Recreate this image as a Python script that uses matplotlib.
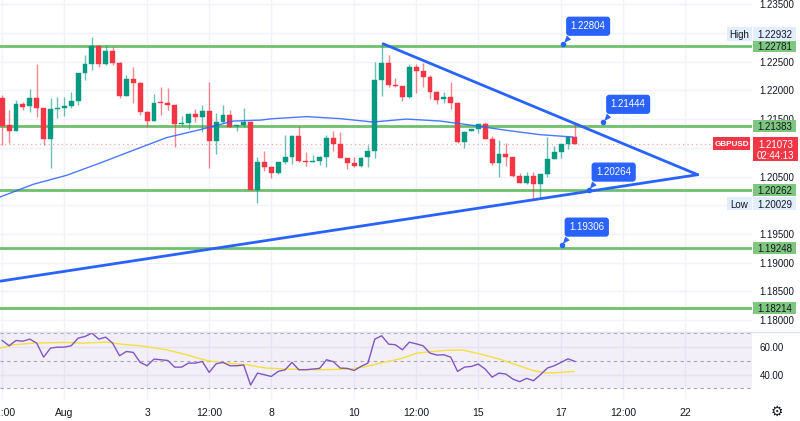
import matplotlib
matplotlib.use("Agg")
import matplotlib.pyplot as plt
import matplotlib.transforms as mtransforms
from matplotlib.patches import Rectangle
from matplotlib.lines import Line2D
import numpy as np

plt.rcParams['font.family'] = ['Liberation Sans', 'DejaVu Sans']

# ---------------- data (4h GBPUSD candles, bar index relative to Aug 1 00:00) -------------
bar_index = list(range(-9, 75))
opens = [1.21864, 1.21400, 1.21301, 1.21766, 1.21731, 1.21864, 1.21690, 1.21150, 1.21673, 1.21702,
         1.21725, 1.21818, 1.22299, 1.22468, 1.22781, 1.22468, 1.22688, 1.22485, 1.21911, 1.22201,
         1.22137, 1.21632, 1.21469, 1.21795, 1.21783, 1.21742, 1.21417, 1.21429, 1.21586, 1.21545,
         1.21644, 1.21127, 1.21452, 1.21568, 1.21377, 1.21400, 1.21441, 1.20262, 1.20761, 1.20674,
         1.20558, 1.20761, 1.20848, 1.21208, 1.20767, 1.20761, 1.20779, 1.20843, 1.21168, 1.21063,
         1.20819, 1.20744, 1.20686, 1.20837, 1.20947, 1.22183, 1.22474, 1.22096, 1.22079, 1.21893,
         1.22410, 1.22346, 1.22230, 1.21969, 1.21847, 1.21893, 1.21777, 1.21110, 1.21301, 1.21324,
         1.21411, 1.21150, 1.20744, 1.20890, 1.20837, 1.20518, 1.20396, 1.20518, 1.20367, 1.20547,
         1.20802, 1.20924, 1.21069, 1.21185]
highs = [1.21920, 1.21661, 1.21835, 1.21806, 1.22021, 1.22456, 1.21700, 1.21864, 1.21882, 1.21882,
         1.21980, 1.22310, 1.22619, 1.22932, 1.22793, 1.22793, 1.22764, 1.22500, 1.22270, 1.22404,
         1.22150, 1.21640, 1.21934, 1.22067, 1.22044, 1.21750, 1.21557, 1.21603, 1.21673, 1.21748,
         1.22154, 1.21603, 1.21748, 1.21650, 1.21400, 1.21690, 1.21475, 1.20848, 1.20936, 1.20680,
         1.20761, 1.21220, 1.21215, 1.21382, 1.20930, 1.20878, 1.20860, 1.21220, 1.21295, 1.21284,
         1.20825, 1.20837, 1.20848, 1.21052, 1.22503, 1.22822, 1.22619, 1.22212, 1.22085, 1.22456,
         1.22456, 1.22474, 1.22270, 1.21992, 1.21980, 1.22154, 1.21790, 1.21290, 1.21330, 1.21411,
         1.21441, 1.21208, 1.21140, 1.21081, 1.20840, 1.20558, 1.20587, 1.20587, 1.20547, 1.21185,
         1.21034, 1.21069, 1.21208, 1.21417]
lows = [1.21052, 1.21092, 1.21290, 1.21661, 1.21632, 1.21545, 1.21052, 1.20645, 1.21516, 1.21557,
        1.21690, 1.21748, 1.22183, 1.22358, 1.22416, 1.22450, 1.22450, 1.21864, 1.21900, 1.21789,
        1.21574, 1.21359, 1.21460, 1.21580, 1.21661, 1.21010, 1.21382, 1.21336, 1.21441, 1.21284,
        1.20657, 1.20895, 1.21429, 1.21365, 1.21301, 1.21359, 1.20262, 1.20036, 1.20605, 1.20471,
        1.20550, 1.20721, 1.20721, 1.20760, 1.20686, 1.20755, 1.20703, 1.20663, 1.20953, 1.20815,
        1.20639, 1.20663, 1.20663, 1.20674, 1.20819, 1.21911, 1.22067, 1.22067, 1.21824, 1.21864,
        1.21951, 1.22067, 1.21847, 1.21766, 1.21777, 1.21673, 1.21081, 1.20994, 1.21295, 1.21255,
        1.21145, 1.20703, 1.20500, 1.20692, 1.20500, 1.20384, 1.20373, 1.20094, 1.20135, 1.20500,
        1.20800, 1.20831, 1.20976, 1.21069]
closes = [1.21382, 1.21301, 1.21766, 1.21719, 1.21864, 1.21690, 1.21150, 1.21678, 1.21702, 1.21725,
          1.21818, 1.22299, 1.22468, 1.22781, 1.22468, 1.22688, 1.22485, 1.21911, 1.22201, 1.22137,
          1.21632, 1.21469, 1.21783, 1.21777, 1.21742, 1.21417, 1.21429, 1.21586, 1.21545, 1.21644,
          1.21127, 1.21452, 1.21568, 1.21371, 1.21400, 1.21441, 1.20262, 1.20761, 1.20674, 1.20558,
          1.20761, 1.20848, 1.21208, 1.20767, 1.20761, 1.20779, 1.20843, 1.21168, 1.21063, 1.20819,
          1.20744, 1.20686, 1.20831, 1.20947, 1.22183, 1.22474, 1.22096, 1.22085, 1.21893, 1.22410,
          1.22346, 1.22230, 1.21980, 1.21835, 1.21893, 1.21777, 1.21110, 1.21284, 1.21324, 1.21411,
          1.21150, 1.20744, 1.20890, 1.20837, 1.20518, 1.20396, 1.20518, 1.20367, 1.20547, 1.20802,
          1.20924, 1.21069, 1.21185, 1.21073]

# moving average on price
ma_bars = [-9.3, -4.5, 0.35, 5.2, 10.0, 14.8, 19.7, 24.5, 28.4, 30.3, 35.1, 40.0, 44.7, 49.6,
           54.5, 59.2, 64.1, 68.9, 73.7]
ma_vals = [1.20144, 1.20365, 1.20522, 1.20736, 1.20957, 1.21177, 1.21317, 1.21466, 1.21483,
           1.21508, 1.21543, 1.21508, 1.21449, 1.21501, 1.21466, 1.21391, 1.21304, 1.21230, 1.21188]

# RSI per bar
rsi = [64.6, 60.8, 64.6, 64.1, 65.6, 62.7, 52.6, 59.1, 59.8, 59.8,
       60.8, 66.3, 67.5, 69.9, 65.6, 67.0, 62.7, 53.6, 56.7, 56.0,
       48.8, 46.4, 51.2, 50.7, 50.2, 45.4, 45.4, 48.3, 48.3, 49.5,
       41.6, 47.8, 48.8, 46.4, 46.4, 46.9, 32.5, 41.1, 39.9, 38.7,
       42.3, 43.5, 48.8, 43.5, 43.5, 44.0, 44.5, 50.7, 49.3, 44.7,
       44.5, 43.0, 45.9, 48.3, 65.6, 68.0, 62.0, 61.5, 57.9, 63.4,
       62.2, 60.8, 55.5, 54.1, 54.3, 52.6, 42.3, 45.4, 45.9, 47.6,
       44.0, 38.2, 41.1, 40.4, 36.8, 34.9, 37.3, 35.6, 39.9, 44.7,
       46.4, 48.8, 51.4, 49.5]
# RSI-based moving average
rsi_ma_bars = [-9.3, -7.4, -4.5, -0.1, 2.8, 6.1, 8.1, 11.0, 14.8, 17.7, 20.6, 23.5, 26.4, 29.3,
               32.2, 36.6, 41.4, 43.8, 46.2, 48.7, 51.1, 53.5, 55.9, 57.8, 60.7, 63.1, 65.5,
               67.9, 69.9, 71.8, 73.9]
rsi_ma = [59.1, 61.5, 62.7, 63.2, 62.7, 63.4, 62.0, 60.8, 57.9, 54.3, 50.2, 48.3, 47.1, 44.7,
          44.0, 43.5, 44.0, 45.9, 48.8, 51.4, 55.5, 56.7, 57.7, 57.7, 54.3, 51.2, 47.1,
          43.0, 41.1, 41.6, 42.3]

# horizontal levels & trendlines
levels = [1.22781, 1.21383, 1.20262, 1.19248, 1.18214]
upper_trend_bars = [46.2, 91.8]
upper_trend_vals = [1.22812, 1.20532]
lower_trend_bars = [-9.32, 91.8]
lower_trend_vals = [1.18678, 1.20532]

# callout price labels
callout_values = [1.22804, 1.21444, 1.20264, 1.19306]
callout_bars = [72.3, 78.1, 76.0, 72.1]

high_val, low_val = 1.22932, 1.20029
symbol = "GBPUSD"
countdown = "02:44:13"

tick_bars = [-9, 0, 12, 21, 30, 42, 51, 60, 72, 81, 90]
tick_labels = ['12:00', 'Aug', '3', '12:00', '8', '10', '12:00', '15', '17', '12:00', '22']
price_ticks = [1.180, 1.185, 1.190, 1.195, 1.200, 1.205, 1.210, 1.215, 1.220, 1.225, 1.230, 1.235]
# tick labels hidden behind the High / Low / last-price markers
hidden_price_ticks = [1.200, 1.210, 1.230]

# ---------------- styling ----------------
GREEN = '#089981'
RED = '#f23645'
BLUE = '#2962ff'
LEVEL = '#6fbf6f'
LEVEL_BOX = '#7fc77f'
GRID = '#f0f3fa'
TXT = '#131722'

W, H = 800, 421
AX_RIGHT = 752
MAIN_BOTTOM = 332
RSI_BOTTOM = 400

fig = plt.figure(figsize=(8, 4.21), dpi=100)
fig.patch.set_facecolor('white')
ax = fig.add_axes([0, 1 - MAIN_BOTTOM / H, AX_RIGHT / W, MAIN_BOTTOM / H])
rx = fig.add_axes([0, 1 - RSI_BOTTOM / H, AX_RIGHT / W, (RSI_BOTTOM - MAIN_BOTTOM) / H], sharex=ax)

XMIN, XMAX = -9.32, 99.67
YMIN, YMAX = 1.17793, 1.23574
RMIN, RMAX = 21.71, 70.72

for a in (ax, rx):
    for s in a.spines.values():
        s.set_visible(False)
    a.set_facecolor('white')

# grid
for yv in price_ticks:
    ax.axhline(yv, color=GRID, lw=1, zorder=0)
for xv in tick_bars:
    ax.axvline(xv, color=GRID, lw=1, zorder=0)
    rx.axvline(xv, color=GRID, lw=1, zorder=0)

# levels
for lv in levels:
    ax.axhline(lv, color=LEVEL, lw=2, zorder=1)

# candles
for i, o, h, l, c in zip(bar_index, opens, highs, lows, closes):
    col = GREEN if c >= o else RED
    ax.vlines(i, l, h, color=col, lw=1, alpha=0.6, zorder=2)
    body = max(abs(c - o), 0.00012)
    ax.bar(i, body, bottom=min(o, c), width=0.72, color=col, edgecolor=col, lw=0.3, zorder=3)

# MA
ax.plot(ma_bars, ma_vals, color=BLUE, lw=1, zorder=4, alpha=0.85)

# trendlines
ax.plot(upper_trend_bars, upper_trend_vals, color=BLUE, lw=2, zorder=4, solid_capstyle='round')
ax.plot(lower_trend_bars, lower_trend_vals, color=BLUE, lw=2, zorder=4, solid_capstyle='round')

# current price line
ax.axhline(closes[-1], color=RED, lw=0.9, ls=(0, (1, 2.5)), alpha=0.45, zorder=1)

# callouts
for val, n in zip(callout_values, callout_bars):
    ax.annotate(f'{val:.5f}', xy=(n, val), xytext=(25, 18), textcoords='offset pixels',
                ha='center', va='center', fontsize=7, color='white', zorder=8,
                bbox=dict(boxstyle='round,pad=0.4,rounding_size=0.25', fc=BLUE, ec=BLUE),
                arrowprops=dict(arrowstyle='wedge,tail_width=0.5,shrink_factor=0.5',
                                fc=BLUE, ec=BLUE, lw=0.5, relpos=(0.15, 0.2)))
    ax.plot(n, val, 'o', ms=3, color=BLUE, zorder=9)

ax.set_xlim(XMIN, XMAX)
ax.set_ylim(YMIN, YMAX)

# price axis
ax.yaxis.tick_right()
ax.set_yticks(price_ticks)
ax.set_yticklabels(['' if any(abs(p - q) < 1e-9 for q in hidden_price_ticks) else f'{p:.5f}'
                    for p in price_ticks])
ax.tick_params(axis='y', length=0, pad=5.5, labelsize=7, labelcolor=TXT)
ax.tick_params(axis='x', length=0, labelbottom=False)

bt = mtransforms.blended_transform_factory(ax.transAxes, ax.transData)
ppu = MAIN_BOTTOM / (YMAX - YMIN)


def box(y, txt, fc, tc, x0px, x1px, top_px=6, bot_px=6, text_dy=0, fs=7, weight='normal'):
    x0 = x0px / AX_RIGHT
    x1 = x1px / AX_RIGHT
    r = Rectangle((x0, y - bot_px / ppu), x1 - x0, (top_px + bot_px) / ppu, transform=bt,
                  facecolor=fc, edgecolor='none', clip_on=False, zorder=6)
    ax.add_patch(r)
    if txt:
        ax.text((x0 + x1) / 2, y + text_dy / ppu, txt, transform=bt, ha='center',
                va='center_baseline', fontsize=fs, color=tc, zorder=7, clip_on=False,
                fontweight=weight)


for lv in levels:
    box(lv, f'{lv:.5f}', LEVEL_BOX, TXT, 753, 796)

# High / Low
box(high_val + 3 / ppu, 'High', '#e3eefc', TXT, 727, 752, 7, 7)
box(high_val + 3 / ppu, f'{high_val:.5f}', '#e3eefc', TXT, 753, 796, 7, 7)
box(low_val, 'Low', '#e3eefc', TXT, 727, 752, 7, 6)
box(low_val, f'{low_val:.5f}', '#e3eefc', TXT, 753, 796, 7, 6)

# current price
cp = closes[-1]
box(cp, symbol, RED, 'white', 713, 750, 6.5, 6.5, fs=5.9, weight='bold')
box(cp, f'{cp:.5f}', RED, 'white', 753, 798, 6.5, 17.5)
ax.text((753 + 798) / 2 / AX_RIGHT, cp - 11 / ppu, countdown, transform=bt, ha='center',
        va='center_baseline', fontsize=7, color='white', zorder=7, clip_on=False)

ax.set_ylim(YMIN, YMAX)
ax.set_xlim(XMIN, XMAX)

# ---------------- RSI pane ----------------
rx.axhspan(30, 70, color='#7e57c2', alpha=0.09, lw=0, zorder=0)
for lv in (60, 40):
    rx.axhline(lv, color='#e6e3f0', lw=1, zorder=1)
for lv in (70, 50, 30):
    rx.axhline(lv, color='#a8a4b8', lw=0.8, ls=(0, (3, 3)), zorder=1)
rx.plot(rsi_ma_bars, rsi_ma, color='#f7df3c', lw=1, zorder=2)
rx.plot(bar_index, rsi, color='#7e57c2', lw=1, zorder=3)
rx.set_ylim(RMIN, RMAX)
rx.yaxis.tick_right()
rx.set_yticks([40, 60])
rx.set_yticklabels(['40.00', '60.00'])
rx.tick_params(axis='y', length=0, pad=5.5, labelsize=7, labelcolor=TXT)
rx.set_xticks(tick_bars)
rx.set_xticklabels(tick_labels)
rx.tick_params(axis='x', length=0, pad=6, labelsize=7.5, labelcolor=TXT)
rx.set_xlim(XMIN, XMAX)

# pane separator
ysep = 1 - MAIN_BOTTOM / H
fig.add_artist(Line2D([0, 1], [ysep, ysep], transform=fig.transFigure, color='#e0e3eb', lw=1))

# settings gear
fig.text(777 / W, 1 - 412 / H, '\u2699', fontsize=10, ha='center', va='center', color=TXT,
         family='DejaVu Sans')

fig.savefig('out.png', dpi=100, facecolor='white')
